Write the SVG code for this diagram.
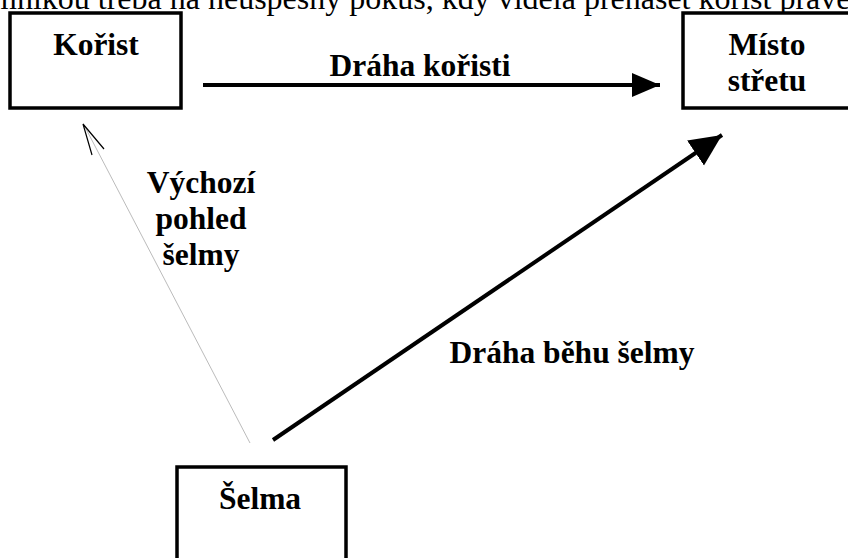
<svg xmlns="http://www.w3.org/2000/svg" width="848" height="558" viewBox="0 0 848 558">
<style>
.box{fill:#fff;stroke:#000;stroke-width:3.5}
.lbl{font-family:"Liberation Serif","Times New Roman",serif;font-weight:bold;font-size:31.5px;fill:#000}
.top{font-family:"Liberation Serif","Times New Roman",serif;font-size:32px;fill:#000}
</style>
<defs>
<marker id="ah" markerUnits="userSpaceOnUse" markerWidth="30" markerHeight="30" refX="28" refY="12" orient="auto" viewBox="0 0 30 24">
<path d="M0,0 L28,12 L0,24 Z" fill="#000"/>
</marker>
<marker id="ah2" markerUnits="userSpaceOnUse" markerWidth="34" markerHeight="34" refX="32" refY="15" orient="auto" viewBox="0 0 34 30">
<path d="M0,0 L32,15 L0,30 Z" fill="#000"/>
</marker>
</defs>
<rect width="848" height="558" fill="#fff"/>
<text class="top" x="-8" y="9">mníkou třeba na neúspěšný pokus, kdy viděla přenášet kořist právě</text>
<g id="korist">
<rect class="box" x="10" y="13" width="171" height="95"/>
<text class="lbl" x="96" y="55" text-anchor="middle">Kořist</text>
</g>
<g id="misto">
<rect class="box" x="683" y="13" width="180" height="95"/>
<text class="lbl" x="767" y="55" text-anchor="middle">Místo</text>
<text class="lbl" x="767" y="91" text-anchor="middle">střetu</text>
</g>
<g id="selma">
<rect class="box" x="177" y="467" width="169" height="110"/>
<text class="lbl" x="260" y="509" text-anchor="middle">Šelma</text>
</g>
<g id="connectors">
<line x1="203" y1="85" x2="660" y2="85" stroke="#000" stroke-width="4" marker-end="url(#ah)"/>
<line x1="273" y1="440" x2="722" y2="135" stroke="#000" stroke-width="4" marker-end="url(#ah2)"/>
<line x1="250" y1="443" x2="84" y2="125" stroke="#aaa" stroke-width="0.8"/>
<polyline points="92,155 83,124 104,149" fill="none" stroke="#000" stroke-width="1.2"/>
</g>
<g id="labels">
<text class="lbl" x="420" y="76" text-anchor="middle">Dráha kořisti</text>
<text class="lbl" x="572" y="363" text-anchor="middle">Dráha běhu šelmy</text>
<text class="lbl" x="201" y="193" text-anchor="middle">Výchozí</text>
<text class="lbl" x="201" y="229" text-anchor="middle">pohled</text>
<text class="lbl" x="201" y="265" text-anchor="middle">šelmy</text>
</g>
</svg>
